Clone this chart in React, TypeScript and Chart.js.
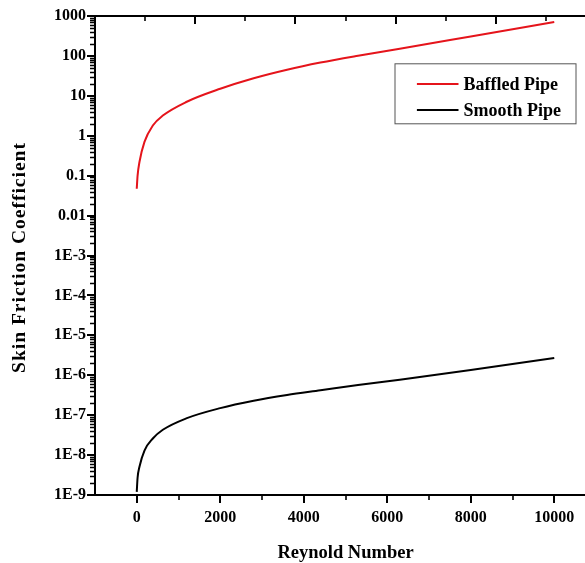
import React, { useEffect, useRef } from "react";
import { Chart, registerables } from "chart.js";

Chart.register(...registerables);

// Reynolds numbers (x) and skin friction coefficients
const reynolds = [0, 20, 65, 185, 385, 625, 1185, 2000, 2800, 3600, 4400, 5300, 6300, 8000, 10000];
const baffledPipe = [0.047, 0.1, 0.22, 0.7, 1.8, 3.2, 7, 15, 27.5, 45, 68, 101, 152, 308, 708];
const smoothPipe = [1.2e-9, 2.7e-9, 5.1e-9, 1.3e-8, 2.6e-8, 4.3e-8, 8.3e-8, 1.5e-7, 2.3e-7, 3.2e-7, 4.2e-7, 5.7e-7, 7.7e-7, 1.35e-6, 2.7e-6];

const seriesLabels = ["Baffled Pipe", "Smooth Pipe"];
const seriesColors = ["#e5141b", "#000000"];

const xTickValues = [0, 2000, 4000, 6000, 8000, 10000];
const xMinorTickValues = [1000, 3000, 5000, 7000, 9000];
const yTickValues = [1e-9, 1e-8, 1e-7, 1e-6, 1e-5, 1e-4, 1e-3, 0.01, 0.1, 1, 10, 100, 1000];
const yTickLabels = ["1E-9", "1E-8", "1E-7", "1E-6", "1E-5", "1E-4", "1E-3", "0.01", "0.1", "1", "10", "100", "1000"];
const topTickValues = [1, 2, 3, 4, 5, 6, 7, 8, 9];

const xTitle = "Reynold Number";
const yTitle = "Skin Friction Coefficient";

const FONT = "'Liberation Serif', 'Times New Roman', serif";

const framePlugin = {
  id: "frame",
  afterDraw(chart: any) {
    const { ctx, chartArea } = chart;
    const { left, right, top, bottom } = chartArea;
    const x = chart.scales.x;
    const y = chart.scales.y;
    const xTop = chart.scales.xTop;
    ctx.save();
    ctx.strokeStyle = "#000";
    ctx.lineWidth = 2;
    ctx.lineCap = "butt";
    // axes lines
    ctx.beginPath();
    ctx.moveTo(left, top - 1);
    ctx.lineTo(left, bottom + 1);
    ctx.moveTo(left - 1, bottom);
    ctx.lineTo(right, bottom);
    ctx.moveTo(left - 1, top);
    ctx.lineTo(right, top);
    ctx.stroke();

    // bottom ticks
    ctx.beginPath();
    xTickValues.forEach((v) => {
      const px = Math.round(x.getPixelForValue(v));
      ctx.moveTo(px, bottom);
      ctx.lineTo(px, bottom + 8);
    });
    ctx.stroke();
    ctx.lineWidth = 1.6;
    ctx.beginPath();
    xMinorTickValues.forEach((v) => {
      const px = Math.round(x.getPixelForValue(v));
      ctx.moveTo(px, bottom);
      ctx.lineTo(px, bottom + 5);
    });
    ctx.stroke();

    // left ticks
    ctx.lineWidth = 2;
    ctx.beginPath();
    yTickValues.forEach((v) => {
      const py = Math.round(y.getPixelForValue(v));
      ctx.moveTo(left, py);
      ctx.lineTo(left - 8, py);
    });
    ctx.stroke();
    ctx.lineWidth = 1.4;
    ctx.beginPath();
    yTickValues.slice(0, -1).forEach((v) => {
      for (let m = 2; m <= 9; m++) {
        const py = Math.round(y.getPixelForValue(v * m)) + 0.5;
        ctx.moveTo(left, py);
        ctx.lineTo(left - 5, py);
      }
    });
    ctx.stroke();

    // top ticks (inward)
    topTickValues.forEach((v) => {
      const px = Math.round(xTop.getPixelForValue(v));
      const major = v % 2 === 0;
      ctx.lineWidth = major ? 2 : 1.6;
      ctx.beginPath();
      ctx.moveTo(px, top);
      ctx.lineTo(px, top + (major ? 8 : 5));
      ctx.stroke();
    });

    // legend
    const lx = right - 201.5;
    const ly = top + 47.3;
    ctx.lineWidth = 1;
    ctx.strokeStyle = "#555";
    ctx.strokeRect(lx + 0.5, ly + 0.5, 181, 60);
    ctx.font = `bold 18px ${FONT}`;
    ctx.textAlign = "left";
    ctx.textBaseline = "middle";
    chart.data.datasets.forEach((ds: any, i: number) => {
      const yy = ly + 20.7 + i * 26;
      ctx.strokeStyle = ds.borderColor;
      ctx.lineWidth = 2;
      ctx.beginPath();
      ctx.moveTo(lx + 22.4, yy);
      ctx.lineTo(lx + 64, yy);
      ctx.stroke();
      ctx.fillStyle = "#000";
      ctx.fillText(ds.label, lx + 69, yy + 1);
    });

    // axis titles
    ctx.fillStyle = "#000";
    ctx.textAlign = "center";
    ctx.textBaseline = "middle";
    ctx.font = `bold 18.5px ${FONT}`;
    ctx.fillText(xTitle, (left + right) / 2, 553);

    ctx.save();
    ctx.translate(20, (top + bottom) / 2 + 2);
    ctx.rotate(-Math.PI / 2);
    ctx.font = `bold 19.5px ${FONT}`;
    try {
      (ctx as any).letterSpacing = "1px";
    } catch (e) {}
    ctx.fillText(yTitle, 0, 0);
    ctx.restore();

    ctx.restore();
  },
};

export default function App() {
  const canvasRef = useRef<HTMLCanvasElement | null>(null);

  useEffect(() => {
    const canvas = canvasRef.current;
    if (!canvas) return;
    const chart = new Chart(canvas, {
      type: "line",
      data: {
        datasets: [
          {
            label: seriesLabels[0],
            data: reynolds.map((r, i) => ({ x: r, y: baffledPipe[i] })),
            borderColor: seriesColors[0],
            backgroundColor: seriesColors[0],
            borderWidth: 2,
            pointRadius: 0,
            cubicInterpolationMode: "monotone",
          },
          {
            label: seriesLabels[1],
            data: reynolds.map((r, i) => ({ x: r, y: smoothPipe[i] })),
            borderColor: seriesColors[1],
            backgroundColor: seriesColors[1],
            borderWidth: 2,
            pointRadius: 0,
            cubicInterpolationMode: "monotone",
          },
        ],
      },
      options: {
        responsive: false,
        animation: false,
        devicePixelRatio: 1,
        layout: { padding: { left: 0, top: 16, right: 4, bottom: 0 } },
        plugins: {
          legend: { display: false },
          tooltip: { enabled: false },
        },
        scales: {
          x: {
            type: "linear",
            position: "bottom",
            min: -1000,
            max: 11000,
            grid: { display: false },
            border: { display: false },
            afterBuildTicks: (s: any) => {
              s.ticks = xTickValues.map((v) => ({ value: v }));
            },
            afterFit: (s: any) => {
              s.height = 68;
            },
            ticks: {
              autoSkip: false,
              maxRotation: 0,
              padding: 5,
              color: "#000",
              font: { family: FONT, size: 16, weight: "bold" },
              callback: (v: any) => String(v),
            },
          },
          xTop: {
            type: "linear",
            position: "top",
            display: false,
            min: 0,
            max: 10,
          },
          y: {
            type: "logarithmic",
            min: 1e-9,
            max: 1000,
            grid: { display: false },
            border: { display: false },
            afterBuildTicks: (s: any) => {
              s.ticks = yTickValues.map((v) => ({ value: v }));
            },
            afterFit: (s: any) => {
              s.width = 95;
            },
            ticks: {
              autoSkip: false,
              padding: 1,
              color: "#000",
              font: { family: FONT, size: 16, weight: "bold" },
              callback: (_v: any, i: number) => yTickLabels[i],
            },
          },
        },
      } as any,
      plugins: [framePlugin],
    });
    return () => chart.destroy();
  }, []);

  return (
    <div
      style={{
        position: "fixed",
        left: 0,
        top: 0,
        width: 585,
        height: 563,
        overflow: "hidden",
        background: "#fff",
      }}
    >
      <canvas ref={canvasRef} width={600} height={563} style={{ display: "block" }} />
    </div>
  );
}
